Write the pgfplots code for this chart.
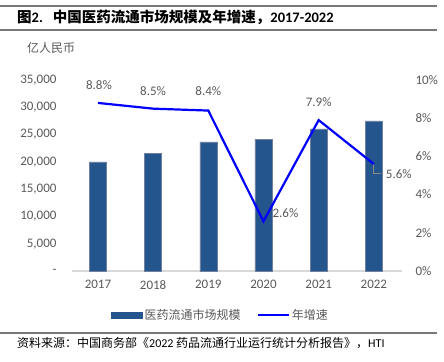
\documentclass[border=0pt]{standalone}
\usepackage{fontspec}
\usepackage{pgfplots}
\pgfplotsset{compat=1.18}
\setmainfont{Carlito}
\newfontfamily\cjk{Noto Sans CJK SC}
\definecolor{barblue}{RGB}{36,85,140}
\definecolor{txtgray}{RGB}{89,89,89}
\definecolor{basegray}{RGB}{217,217,217}
\definecolor{rulegray}{RGB}{120,120,120}

\pgfplotstableread{
x  y
0  20016
1  21586
2  23667
3  24149
4  26064
5  27516
}\sizetable

\pgfplotstableread{
x  y    dx  dy
0  8.8  1   18
1  8.5  0   18
2  8.4  0   19
3  2.6  22  8
4  7.9  0   18
5  5.6  25  -10.5
}\growthtable

\begin{document}
\begin{tikzpicture}
\useasboundingbox (0bp,0bp) rectangle (444bp,-362bp);
% rules
\draw[rulegray, line width=1.3bp] (0bp,-6bp) -- (437bp,-6bp);
\draw[rulegray, line width=1.3bp] (0bp,-30bp) -- (437bp,-30bp);
\draw[rulegray, line width=1.1bp] (0bp,-333bp) -- (437bp,-333bp);
% title
\node[anchor=west, inner sep=0, font=\fontsize{14.5bp}{17bp}\selectfont\bfseries] at (17bp,-17bp)
  {{\cjk\bfseries 图}2.\hspace{10bp}{\cjk\bfseries 中国医药流通市场规模及年增速，}2017-2022};
% unit
\node[anchor=west, inner sep=0, text=txtgray, font=\fontsize{12bp}{14bp}\selectfont\cjk] at (27bp,-48bp) {亿人民币};
% source
\node[anchor=west, inner sep=0, font=\fontsize{12bp}{14bp}\selectfont] at (17bp,-343bp)
  {{\cjk 资料来源：中国商务部《}2022 {\cjk 药品流通行业运行统计分析报告》，}HTI};

\begin{axis}[
  at={(72bp,-271bp)}, anchor=south west,
  scale only axis, width=330bp, height=191bp,
  xmin=-0.47, xmax=5.51,
  ymin=0, ymax=35000,
  scaled y ticks=false,
  axis x line*=bottom, axis y line*=left,
  x axis line style={draw=basegray, line width=1.5bp, -},
  y axis line style={draw=none},
  major tick length=0,
  xtick=data,
  xticklabels={2017,2018,2019,2020,2021,2022},
  ytick={0,5000,10000,15000,20000,25000,30000,35000},
  yticklabels={{-},{5,000},{10,000},{15,000},{20,000},{25,000},{30,000},{35,000}},
  tick label style={text=txtgray, font=\fontsize{13bp}{15bp}\selectfont},
  yticklabel style={anchor=east, xshift=-12bp},
  xticklabel style={yshift=-6bp},
  ybar, bar width=17bp,
  clip=false,
]
\addplot[fill=barblue, draw={rgb,255:red,110;green,130;blue,160}, line width=0.5bp] table[x=x,y=y] {\sizetable};
\end{axis}

\begin{axis}[
  at={(72bp,-271bp)}, anchor=south west,
  scale only axis, width=330bp, height=191bp,
  xmin=-0.47, xmax=5.51,
  ymin=0, ymax=10,
  scaled y ticks=false,
  axis y line*=right, axis x line=none,
  y axis line style={draw=none},
  major tick length=0,
  ytick={0,2,4,6,8,10},
  yticklabels={0\%,2\%,4\%,6\%,8\%,10\%},
  tick label style={text=txtgray, font=\fontsize{13bp}{15bp}\selectfont},
  yticklabel style={anchor=west, xshift=10bp},
  clip=false,
  /pgf/number format/assume math mode=true,
  legend columns=2,
  legend style={at={(0.45,-0.23)}, anchor=center, draw=none, fill=none,
    font=\fontsize{12bp}{14bp}\selectfont\cjk, text=txtgray,
    /tikz/every even column/.append style={column sep=14bp}},
]
\addlegendimage{legend image code/.code={\fill[barblue] (0bp,-3bp) rectangle (31bp,3bp);}}
\addlegendentry{医药流通市场规模}
\draw[txtgray!70, line width=0.8bp] (axis cs:5,5.6) -- ++(0bp,-9bp) -- ++(7bp,0bp);
\addplot[blue, line width=2.2bp, mark=none,
  legend image code/.code={\draw[blue, line width=2.2bp] (0bp,0bp) -- (31bp,0bp);},
  nodes near coords={\pgfmathprintnumber[fixed,fixed zerofill,precision=1,assume math mode=true]{\pgfplotspointmeta}\%},
  point meta=explicit,
  visualization depends on={\thisrow{dx}\as\dx},
  visualization depends on={\thisrow{dy}\as\dy},
  every node near coord/.append style={anchor=center, text=txtgray,
    font=\fontsize{13bp}{15bp}\selectfont, xshift=\dx bp, yshift=\dy bp},
] table[x=x,y=y,meta=y] {\growthtable};
\addlegendentry{年增速}
\end{axis}
\end{tikzpicture}
\end{document}
